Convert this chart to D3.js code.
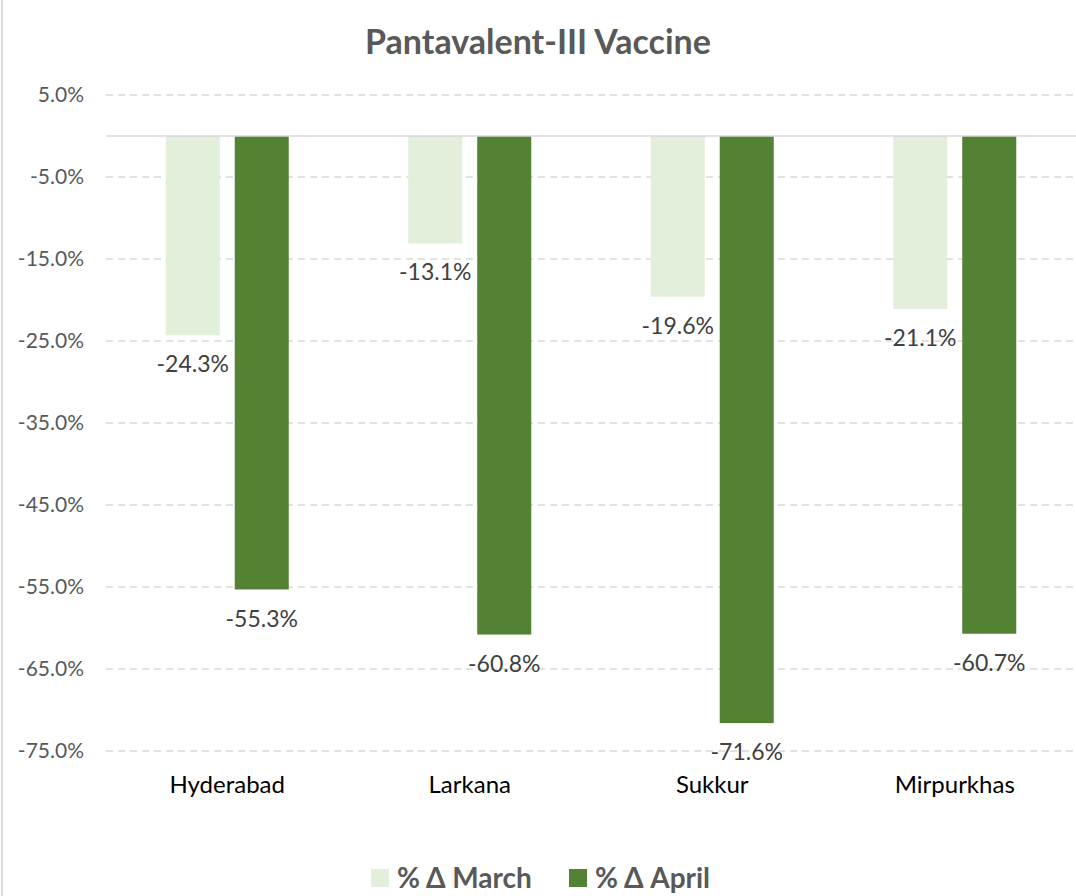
<!DOCTYPE html>
<html>
<head>
<meta charset="utf-8">
<script src="https://cdn.jsdelivr.net/npm/d3@7"></script>
<style>
  body { margin: 0; background: #fff; }
  text { font-family: Lato, "Open Sans", sans-serif; }
</style>
</head>
<body>
<div id="chart"></div>
<script>
// chart data
const districts = ["Hyderabad", "Larkana", "Sukkur", "Mirpurkhas"];
const seriesNames = ["% Δ March", "% Δ April"];
const marchChange = [-24.3, -13.1, -19.6, -21.1];
const aprilChange = [-55.3, -60.8, -71.6, -60.7];
const yTicks = [5, -5, -15, -25, -35, -45, -55, -65, -75];

const width = 1076, height = 896;
const colors = ["#E2EFDA", "#548235"];
const margin = { left: 106, right: 0, top: 95, bottom: 145 };

const svg = d3.select("#chart").append("svg")
    .attr("width", width)
    .attr("height", height);

// left border of the chart area
svg.append("line")
    .attr("x1", 2).attr("x2", 2)
    .attr("y1", 0).attr("y2", height)
    .attr("stroke", "#d9d9d9").attr("stroke-width", 2);

const x = d3.scaleBand()
    .domain(districts)
    .range([margin.left, width - margin.right]);

const xInner = d3.scaleBand()
    .domain(seriesNames)
    .range([0, x.bandwidth()])
    .paddingInner(0.217)
    .paddingOuter(0.866);

const y = d3.scaleLinear()
    .domain([-75, 5])
    .range([height - margin.bottom, margin.top]);

// gridlines
svg.append("g")
    .selectAll("line")
    .data(yTicks)
    .join("line")
    .attr("x1", margin.left)
    .attr("x2", width - margin.right)
    .attr("y1", d => y(d))
    .attr("y2", d => y(d))
    .attr("stroke", "#d9d9d9")
    .attr("stroke-width", 1.3)
    .attr("stroke-dasharray", "7,5");

// y tick labels
svg.append("g")
    .selectAll("text")
    .data(yTicks)
    .join("text")
    .attr("x", 84)
    .attr("y", d => y(d))
    .attr("dy", "0.35em")
    .attr("text-anchor", "end")
    .attr("fill", "#595959")
    .style("font-size", "21px")
    .text(d => d.toFixed(1) + "%");

const rows = districts.map((d, i) => ({
    district: d,
    values: [
        { series: seriesNames[0], value: marchChange[i] },
        { series: seriesNames[1], value: aprilChange[i] }
    ]
}));

const groups = svg.append("g")
    .selectAll("g")
    .data(rows)
    .join("g")
    .attr("transform", d => "translate(" + x(d.district) + ",0)");

groups.selectAll("rect")
    .data(d => d.values)
    .join("rect")
    .attr("x", d => xInner(d.series))
    .attr("width", xInner.bandwidth())
    .attr("y", y(0))
    .attr("height", d => y(d.value) - y(0))
    .attr("fill", (d, i) => colors[i]);

groups.selectAll("text.label")
    .data(d => d.values)
    .join("text")
    .attr("class", "label")
    .attr("x", d => xInner(d.series) + xInner.bandwidth() / 2)
    .attr("y", d => y(d.value) + 29)
    .attr("dy", "0.35em")
    .attr("text-anchor", "middle")
    .attr("fill", "#404040")
    .style("font-size", "23px")
    .text(d => d.value.toFixed(1) + "%");

// zero line
svg.append("line")
    .attr("x1", margin.left)
    .attr("x2", width - margin.right)
    .attr("y1", y(0))
    .attr("y2", y(0))
    .attr("stroke", "#d9d9d9")
    .attr("stroke-width", 1.5);

// category labels
svg.append("g")
    .selectAll("text")
    .data(districts)
    .join("text")
    .attr("x", d => x(d) + x.bandwidth() / 2)
    .attr("y", 785)
    .attr("dy", "0.35em")
    .attr("text-anchor", "middle")
    .attr("fill", "#000")
    .style("font-size", "24px")
    .text(d => d);

// title
svg.append("text")
    .attr("x", 538)
    .attr("y", 42)
    .attr("dy", "0.35em")
    .attr("text-anchor", "middle")
    .attr("fill", "#595959")
    .style("font-size", "34px")
    .style("font-weight", "bold")
    .text("Pantavalent-III Vaccine");

// legend
const legendX = [371, 569];
const legend = svg.append("g")
    .selectAll("g")
    .data(seriesNames)
    .join("g")
    .attr("transform", (d, i) => "translate(" + legendX[i] + ",869)");

legend.append("rect")
    .attr("width", 18)
    .attr("height", 18)
    .attr("fill", (d, i) => colors[i]);

legend.append("text")
    .attr("x", 26)
    .attr("y", 9)
    .attr("dy", "0.35em")
    .attr("fill", "#595959")
    .style("font-size", "28px")
    .style("font-weight", "bold")
    .text(d => d);
</script>
</body>
</html>
